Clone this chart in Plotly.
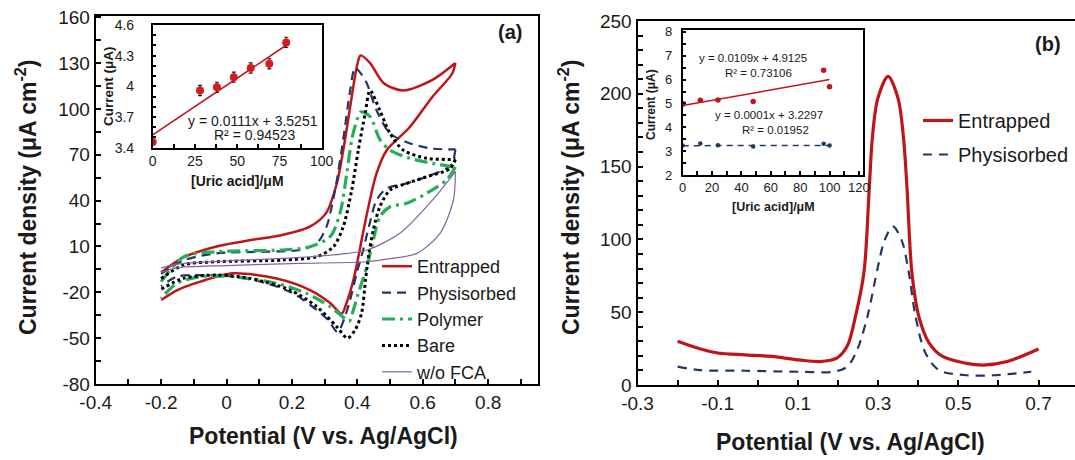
import plotly.graph_objects as go

W, H = 1075, 460
FONT = "Liberation Sans, Arial, sans-serif"

# ---------------- Panel (a): cyclic voltammograms ----------------
ent_fwd_v = [-0.2, -0.13, -0.03, 0.07, 0.17, 0.255, 0.305, 0.337, 0.357, 0.378, 0.398, 0.41, 0.439, 0.48, 0.54, 0.63, 0.70]
ent_fwd_i = [-7, 3, 10, 14, 17.5, 23, 32, 51, 73, 101, 127, 135, 130, 117, 112, 119, 130]
ent_rev_v = [0.70, 0.69, 0.63, 0.56, 0.49, 0.459, 0.434, 0.413, 0.405, 0.388, 0.367, 0.352, 0.317, 0.255, 0.153, 0.02, -0.08, -0.15, -0.2]
ent_rev_i = [130, 123, 108, 88, 73, 58, 36, 14, 5, -12, -27, -34, -27, -18.5, -11, -7.6, -13, -18.5, -25]

phy_fwd_v = [-0.2, -0.13, -0.03, 0.12, 0.225, 0.276, 0.306, 0.332, 0.357, 0.378, 0.393, 0.408, 0.429, 0.459, 0.50, 0.56, 0.63, 0.70]
phy_fwd_i = [-8, 1, 5.5, 6.6, 7.7, 12, 23, 47, 80, 112, 127, 124, 116.8, 99, 84, 77.5, 74, 73.5]
phy_rev_v = [0.70, 0.69, 0.673, 0.612, 0.551, 0.49, 0.459, 0.438, 0.418, 0.398, 0.378, 0.362, 0.34, 0.31, 0.276, 0.204, 0.123, 0.021, -0.081, -0.152, -0.2]
phy_rev_i = [73.5, 64, 61, 55.6, 51.3, 48, 40.4, 25.2, 7.7, -7.6, -25, -36, -46, -38, -31.6, -20.7, -14.1, -9.8, -8.7, -9.8, -16]

pol_fwd_v = [-0.2, -0.13, -0.03, 0.17, 0.255, 0.317, 0.347, 0.368, 0.383, 0.398, 0.41, 0.439, 0.469, 0.50, 0.56, 0.63, 0.70]
pol_fwd_i = [-13, 3.3, 6.6, 7.7, 9.8, 16.4, 31.7, 58, 80, 92, 98, 95, 80, 73, 67.7, 64.4, 62]
pol_rev_v = [0.70, 0.673, 0.612, 0.551, 0.50, 0.469, 0.449, 0.429, 0.403, 0.388, 0.375, 0.35, 0.317, 0.245, 0.153, 0.021, -0.081, -0.152, -0.2]
pol_rev_i = [62, 53.5, 44.8, 38.2, 36, 29.5, 14.2, -3.3, -20.7, -31.6, -39, -35, -29.4, -20.7, -14.1, -9.8, -9.8, -14.1, -24]

bar_fwd_v = [-0.2, -0.13, -0.03, 0.17, 0.276, 0.327, 0.357, 0.383, 0.403, 0.424, 0.439, 0.469, 0.50, 0.541, 0.612, 0.70]
bar_fwd_i = [-11, -2, 0, 1.1, 3.3, 9.8, 23, 47, 73, 97, 112, 99, 84, 73, 67.7, 67]
bar_rev_v = [0.70, 0.684, 0.612, 0.551, 0.50, 0.469, 0.449, 0.434, 0.425, 0.413, 0.393, 0.37, 0.337, 0.276, 0.194, 0.072, -0.03, -0.132, -0.2]
bar_rev_i = [67, 61, 55.6, 51.3, 46.9, 36, 20.8, 3.3, -12, -33.7, -44.7, -50, -42.5, -29.4, -18.5, -10.9, -8.7, -10.9, -18]

fca_fwd_v = [-0.2, -0.15, 0.0, 0.2, 0.35, 0.43, 0.53, 0.63, 0.70]
fca_fwd_i = [-4, -1.5, 0.5, 2.5, 5, 7.7, 18.6, 40.4, 59]
fca_rev_v = [0.70, 0.694, 0.653, 0.582, 0.5, 0.43, 0.225, 0.0, -0.15, -0.2]
fca_rev_i = [59, 40.4, 18.6, 5.5, 2, 0, -1.1, -2.5, -4, -7]

a_xtick_vals = [-0.4, -0.2, 0, 0.2, 0.4, 0.6, 0.8]
a_xtick_text = ["-0.4", "-0.2", "0", "0.2", "0.4", "0.6", "0.8"]
a_ytick_vals = [-80, -50, -20, 10, 40, 70, 100, 130, 160]
a_ytick_text = ["-80", "-50", "-20", "10", "40", "70", "100", "130", "160"]

# inset (a): calibration
ins_a_conc = [0, 28, 38, 48, 58, 69, 79]
ins_a_curr = [3.456, 3.96, 3.99, 4.09, 4.18, 4.22, 4.43]
ins_a_err = [0.02, 0.05, 0.05, 0.05, 0.05, 0.05, 0.05]
ins_a_fit_x = [0, 79]
ins_a_fit_y = [3.525, 4.402]
ins_a_xtick_vals = [0, 25, 50, 75, 100]
ins_a_ytick_vals = [3.4, 3.7, 4.0, 4.3, 4.6]
ins_a_ytick_text = ["3.4", "3.7", "4", "4.3", "4.6"]

# ---------------- Panel (b): DPV ----------------
dpv_ent_v = [-0.2, -0.143, -0.1, -0.033, 0.035, 0.103, 0.155, 0.197, 0.223, 0.244, 0.265, 0.278, 0.286, 0.299, 0.325, 0.35, 0.363, 0.372, 0.384, 0.401, 0.427, 0.461, 0.52, 0.563, 0.622, 0.7]
dpv_ent_i = [30, 24.7, 22, 20.7, 19.6, 17.2, 16.1, 18.4, 26.7, 47.7, 78, 135.6, 170.7, 196.5, 212, 196.5, 170.7, 135.6, 78, 47.7, 29, 19.6, 14.9, 13.7, 16.1, 24.7]
dpv_phy_v = [-0.2, -0.143, -0.033, 0.103, 0.189, 0.223, 0.248, 0.274, 0.299, 0.316, 0.337, 0.359, 0.376, 0.393, 0.418, 0.452, 0.52, 0.589, 0.682]
dpv_phy_i = [12.6, 10.2, 9.8, 9.1, 9.1, 12.6, 24.3, 47.7, 80.5, 99.2, 109, 99.2, 78.1, 47.7, 22, 10.2, 6.7, 6.7, 9.1]

b_xtick_vals = [-0.3, -0.1, 0.1, 0.3, 0.5, 0.7]
b_xtick_text = ["-0.3", "-0.1", "0.1", "0.3", "0.5", "0.7"]
b_ytick_vals = [0, 50, 100, 150, 200, 250]

# inset (b): calibration
ins_b_red_x = [0, 0, 12, 24, 48, 96, 100]
ins_b_red_y = [5.0, 4.97, 5.13, 5.14, 5.08, 6.39, 5.7]
ins_b_red_fit_x = [0, 100]
ins_b_red_fit_y = [4.91, 6.0]
ins_b_blue_x = [0, 12, 24, 48, 96, 100]
ins_b_blue_y = [3.24, 3.32, 3.25, 3.19, 3.31, 3.24]
ins_b_blue_fit_x = [0, 100]
ins_b_blue_fit_y = [3.23, 3.24]
ins_b_xtick_vals = [0, 20, 40, 60, 80, 100, 120]
ins_b_ytick_vals = [2, 3, 4, 5, 6, 7, 8]

RED = "#C0141B"
NAVY = "#1F3864"
GREEN = "#26AE5A"
BLACK = "#000000"
PURPLE = "#8064A2"

fig = go.Figure()

def cv(fv, fi, rv, ri, name, color, width, dash, legend):
    fig.add_trace(go.Scatter(x=fv, y=fi, mode="lines", name=name, legendgroup=name,
                             line=dict(color=color, width=width, dash=dash, shape="spline", smoothing=0.8),
                             xaxis="x", yaxis="y", legend=legend))
    fig.add_trace(go.Scatter(x=rv, y=ri, mode="lines", name=name, legendgroup=name, showlegend=False,
                             line=dict(color=color, width=width, dash=dash, shape="spline", smoothing=0.8),
                             xaxis="x", yaxis="y", legend=legend))

cv(ent_fwd_v, ent_fwd_i, ent_rev_v, ent_rev_i, "Entrapped", RED, 2.5, "solid", "legend")
cv(phy_fwd_v, phy_fwd_i, phy_rev_v, phy_rev_i, "Physisorbed", NAVY, 2.2, "9px,6px", "legend")
cv(pol_fwd_v, pol_fwd_i, pol_rev_v, pol_rev_i, "Polymer", GREEN, 3.2, "13px,5px,3px,5px", "legend")
cv(bar_fwd_v, bar_fwd_i, bar_rev_v, bar_rev_i, "Bare", BLACK, 3, "3px,3px", "legend")
cv(fca_fwd_v, fca_fwd_i, fca_rev_v, fca_rev_i, "w/o FCA", PURPLE, 1.2, "solid", "legend")

# inset a
fig.add_trace(go.Scatter(x=ins_a_fit_x, y=ins_a_fit_y, mode="lines", showlegend=False,
                         line=dict(color=RED, width=1.6), xaxis="x3", yaxis="y3"))
fig.add_trace(go.Scatter(x=ins_a_conc, y=ins_a_curr, mode="markers", showlegend=False,
                         marker=dict(color="#D7191C", size=8),
                         error_y=dict(type="data", array=ins_a_err, color="#222222", thickness=1.2, width=2),
                         xaxis="x3", yaxis="y3"))

# panel b
fig.add_trace(go.Scatter(x=dpv_ent_v, y=dpv_ent_i, mode="lines", name="Entrapped",
                         line=dict(color=RED, width=3.2, shape="spline", smoothing=0.9),
                         xaxis="x2", yaxis="y2", legend="legend2", legendgroup="b1"))
fig.add_trace(go.Scatter(x=dpv_phy_v, y=dpv_phy_i, mode="lines", name="Physisorbed",
                         line=dict(color=NAVY, width=2.2, dash="9px,7px", shape="spline", smoothing=0.9),
                         xaxis="x2", yaxis="y2", legend="legend2", legendgroup="b2"))

# inset b
fig.add_trace(go.Scatter(x=ins_b_red_fit_x, y=ins_b_red_fit_y, mode="lines", showlegend=False,
                         line=dict(color=RED, width=1.5), xaxis="x4", yaxis="y4"))
fig.add_trace(go.Scatter(x=ins_b_blue_fit_x, y=ins_b_blue_fit_y, mode="lines", showlegend=False,
                         line=dict(color=NAVY, width=1.5, dash="6px,5px"), xaxis="x4", yaxis="y4"))
fig.add_trace(go.Scatter(x=ins_b_red_x, y=ins_b_red_y, mode="markers", showlegend=False,
                         marker=dict(color=RED, size=5.5), xaxis="x4", yaxis="y4"))
fig.add_trace(go.Scatter(x=ins_b_blue_x, y=ins_b_blue_y, mode="markers", showlegend=False,
                         marker=dict(color=NAVY, size=4.5), xaxis="x4", yaxis="y4"))

def px2fx(p): return p / W
def py2fy(p): return 1 - p / H

tickfont = dict(family=FONT, size=19, color="#1a1a1a")
ax_common = dict(showline=True, linecolor="black", linewidth=2, showgrid=False, zeroline=False,
                 automargin=False, tickangle=0,
                 ticks="inside", ticklen=5, tickwidth=1.5, tickcolor="black", tickfont=tickfont)
ins_common = dict(showline=True, linecolor="black", linewidth=1.5, showgrid=False, zeroline=False,
                  automargin=False, tickangle=0, mirror=True,
                  ticks="inside", ticklen=4, tickcolor="black")

def minor(d, t0, ln=5):
    return dict(tickmode="linear", dtick=d, tick0=t0, ticks="inside", ticklen=ln, tickwidth=1.5, tickcolor="black")

fig.update_layout(
    width=W, height=H, margin=dict(l=0, r=0, t=0, b=0, autoexpand=False),
    paper_bgcolor="white", plot_bgcolor="rgba(0,0,0,0)",
    font=dict(family=FONT, color="black"),
    xaxis=dict(domain=[px2fx(95.7), px2fx(538.3)], range=[-0.4, 0.9535], anchor="y", mirror=True,
               tickmode="array", tickvals=a_xtick_vals, ticktext=a_xtick_text,
               minor=minor(0.1, -0.4), **ax_common),
    yaxis=dict(domain=[py2fy(384), py2fy(15.7)], range=[-80, 161], anchor="x", mirror=True,
               tickmode="array", tickvals=a_ytick_vals, ticktext=a_ytick_text,
               minor=minor(15, -80), **ax_common),
    xaxis2=dict(domain=[px2fx(637.5), 1.0], range=[-0.3, 0.791], anchor="y2", mirror=True,
                tickmode="array", tickvals=b_xtick_vals, ticktext=b_xtick_text,
                minor=minor(0.1, -0.3), **ax_common),
    yaxis2=dict(domain=[py2fy(385), py2fy(20.7)], range=[0, 250.2], anchor="x2", mirror=False,
                tickmode="array", tickvals=b_ytick_vals,
                minor=minor(10, 0), **ax_common),
    xaxis3=dict(domain=[px2fx(152.7), px2fx(321.7)], range=[0, 100], anchor="y3",
                tickmode="array", tickvals=ins_a_xtick_vals, minor=minor(12.5, 0, 4),
                tickfont=dict(family=FONT, size=14, color="#1a1a1a"), **ins_common),
    yaxis3=dict(domain=[py2fy(147.7), py2fy(25)], range=[3.4, 4.6], anchor="x3",
                tickmode="array", tickvals=ins_a_ytick_vals, ticktext=ins_a_ytick_text,
                minor=minor(0.1, 3.4, 4),
                tickfont=dict(family=FONT, size=14, color="#1a1a1a"), ticklabelstandoff=14, **ins_common),
    xaxis4=dict(domain=[px2fx(682.7), px2fx(863.3)], range=[0, 123], anchor="y4",
                tickmode="array", tickvals=ins_b_xtick_vals, minor=minor(10, 0, 4),
                tickfont=dict(family=FONT, size=13, color="#1a1a1a"), **ins_common),
    yaxis4=dict(domain=[py2fy(175), py2fy(30)], range=[2, 8.08], anchor="x4",
                tickmode="array", tickvals=ins_b_ytick_vals, minor=minor(0.5, 2, 4),
                tickfont=dict(family=FONT, size=13, color="#1a1a1a"), ticklabelstandoff=6, **ins_common),
    legend=dict(x=px2fx(377), y=py2fy(248), xanchor="left", yanchor="top", bgcolor="rgba(0,0,0,0)",
                font=dict(family=FONT, size=18, color="#1a1a1a"), itemwidth=30, traceorder="normal"),
    legend2=dict(x=px2fx(918), y=py2fy(101), xanchor="left", yanchor="top", bgcolor="rgba(0,0,0,0)",
                 font=dict(family=FONT, size=20, color="#1a1a1a"), itemwidth=30,
                 traceorder="grouped", tracegroupgap=5),
)

ann = []
def text(x, y, s, size, bold=False, angle=0, color="#1a1a1a"):
    t = f"<b>{s}</b>" if bold else s
    ann.append(dict(x=px2fx(x), y=py2fy(y), xref="paper", yref="paper", text=t, showarrow=False,
                    textangle=angle, font=dict(family=FONT, size=size, color=color),
                    xanchor="center", yanchor="middle"))

text(323, 436, "Potential (V vs. Ag/AgCl)", 23, bold=True)
text(850, 442, "Potential (V vs. Ag/AgCl)", 23, bold=True)
text(26, 198, "Current density (μA cm<sup>-2</sup>)", 23, bold=True, angle=-90)
text(569, 198, "Current density (μA cm<sup>-2</sup>)", 23, bold=True, angle=-90)
text(510, 32, "(a)", 20, bold=True)
text(1048, 44, "(b)", 20, bold=True)
# inset a labels
text(108, 86, "Current (μA)", 13.5, bold=True, angle=-90)
text(237, 181, "[Uric acid]/μM", 14, bold=True)
text(253, 121, "y = 0.0111x + 3.5251", 14)
text(255, 135, "R² = 0.94523", 14)
# inset b labels
text(651, 105, "Current (μA)", 12, bold=True, angle=-90)
text(773, 207, "[Uric acid]/μM", 12.5, bold=True)
text(753, 58, "y = 0.0109x + 4.9125", 11.5)
text(758, 73, "R² = 0.73106", 11.5)
text(769, 115, "y = 0.0001x + 3.2297", 11.5)
text(775, 130, "R² = 0.01952", 11.5)

fig.update_layout(annotations=ann)
fig.write_html("out.html", config={"displayModeBar": False},
               post_script="document.body.style.margin='0';document.body.style.overflow='hidden';")
